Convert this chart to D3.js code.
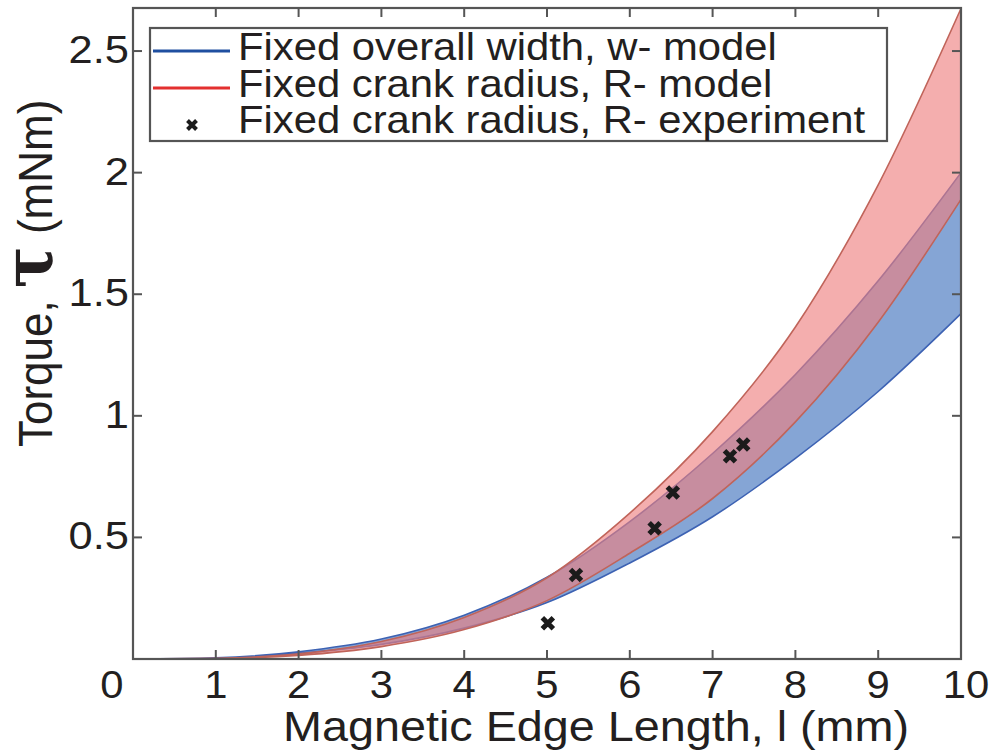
<!DOCTYPE html>
<html>
<head>
<meta charset="utf-8">
<script src="https://cdn.jsdelivr.net/npm/d3@7"></script>
<style>
body { margin: 0; background: #fff; }
text { font-family: "Liberation Sans", Arial, sans-serif; fill: #231f20; }
</style>
</head>
<body>
<div id="chart"></div>
<script>
// data
var edgeLength = [0, 1, 2, 3, 4, 5, 6, 7, 8, 9, 10];
var widthModelLow  = [0, 0.004, 0.023, 0.060, 0.127, 0.232, 0.395, 0.585, 0.825, 1.100, 1.420];
var widthModelHigh = [0, 0.005, 0.030, 0.082, 0.180, 0.336, 0.565, 0.845, 1.170, 1.555, 2.000];
var crankModelLow  = [0, 0.002, 0.015, 0.051, 0.121, 0.240, 0.435, 0.660, 0.975, 1.385, 1.890];
var crankModelHigh = [0, 0.003, 0.021, 0.072, 0.171, 0.334, 0.600, 0.935, 1.365, 1.950, 2.675];

var expLength = [5.01, 5.35, 6.30, 6.52, 7.21, 7.37];
var expTorque = [0.147, 0.345, 0.538, 0.685, 0.834, 0.882];

var xTicks = [0, 1, 2, 3, 4, 5, 6, 7, 8, 9, 10];
var yTicks = [0.5, 1, 1.5, 2, 2.5];
var legendLabels = ["Fixed overall width, w- model", "Fixed crank radius, R- model", "Fixed crank radius, R- experiment"];

var W = 992, H = 753;
var stretch = 1.1; // the figure text is a bit wider than tall

var svg = d3.select('#chart').append('svg')
    .attr('width', W)
    .attr('height', H);

var x = d3.scaleLinear().domain([0, 10]).range([133, 961]);
var y = d3.scaleLinear().domain([0, 2.677]).range([659, 8]);

function bandData(lo, hi) {
    return edgeLength.map(function(l, i) { return {l: l, lo: lo[i], hi: hi[i]}; });
}

var area = d3.area()
    .x(function(d) { return x(d.l); })
    .y0(function(d) { return y(d.lo); })
    .y1(function(d) { return y(d.hi); })
    .curve(d3.curveMonotoneX);

// blue band first, red translucent band on top
svg.append('path')
    .datum(bandData(widthModelLow, widthModelHigh))
    .attr('d', area)
    .attr('fill', '#85a5d5')
    .attr('stroke', '#3d62b3')
    .attr('stroke-width', 1.6);

svg.append('path')
    .datum(bandData(crankModelLow, crankModelHigh))
    .attr('d', area)
    .attr('fill', 'rgb(237,126,126)')
    .attr('fill-opacity', 0.63)
    .attr('stroke', '#c0645a')
    .attr('stroke-width', 1.6);

// experiment markers
function cross(g, cx, cy, s, w) {
    g.append('path')
        .attr('d', 'M' + (cx - s) + ',' + (cy - s) + 'L' + (cx + s) + ',' + (cy + s) +
                   'M' + (cx - s) + ',' + (cy + s) + 'L' + (cx + s) + ',' + (cy - s))
        .attr('stroke', '#1b1b1b')
        .attr('stroke-width', w)
        .attr('fill', 'none');
}
var marks = svg.append('g').attr('class', 'exp');
for (var i = 0; i < expLength.length; i++) {
    cross(marks, x(expLength[i]), y(expTorque[i]), 5.5, 5);
}

// axes box
var frame = svg.append('g').attr('class', 'frame');
var axisColor = '#555';
var tickLen = 9;
frame.append('rect')
    .attr('x', x(0)).attr('y', y.range()[1])
    .attr('width', x(10) - x(0)).attr('height', y(0) - y.range()[1])
    .attr('fill', 'none').attr('stroke', axisColor).attr('stroke-width', 2.2);

xTicks.forEach(function(t) {
    if (t === 0 || t === 10) return;
    frame.append('line').attr('x1', x(t)).attr('x2', x(t)).attr('y1', y(0)).attr('y2', y(0) - tickLen)
        .attr('stroke', axisColor).attr('stroke-width', 2);
    frame.append('line').attr('x1', x(t)).attr('x2', x(t)).attr('y1', y.range()[1]).attr('y2', y.range()[1] + tickLen)
        .attr('stroke', axisColor).attr('stroke-width', 2);
});
yTicks.forEach(function(t) {
    frame.append('line').attr('x1', x(0)).attr('x2', x(0) + tickLen).attr('y1', y(t)).attr('y2', y(t))
        .attr('stroke', axisColor).attr('stroke-width', 2);
    frame.append('line').attr('x1', x(10)).attr('x2', x(10) - tickLen).attr('y1', y(t)).attr('y2', y(t))
        .attr('stroke', axisColor).attr('stroke-width', 2);
});

// stretched text helper
function label(parent, tx, ty, str, size, anchor, rot) {
    var t = parent.append('text')
        .attr('transform', 'translate(' + tx + ',' + ty + ') scale(' + stretch + ',1)' + (rot ? ' rotate(' + rot + ')' : ''))
        .attr('font-size', size)
        .attr('text-anchor', anchor)
        .text(str);
    return t;
}

xTicks.forEach(function(t) {
    var off = 0;
    if (t === 0) off = -21;
    if (t === 10) off = 5;
    label(svg, x(t) + off, 698, d3.format('d')(t), 38, 'middle');
});
yTicks.forEach(function(t) {
    label(svg, 129, y(t) + 12, String(t), 39.5, 'end');
});

label(svg, 596, 741, 'Magnetic Edge Length, l (mm)', 42.5, 'middle');

// y label with big tau
var yl = svg.append('text')
    .attr('transform', 'translate(52,447) scale(' + stretch + ',1) rotate(-90)')
    .attr('font-size', 44)
    .attr('text-anchor', 'start');
yl.append('tspan').text('Torque, ');
yl.append('tspan').text('\u03C4').attr('font-family', '"DejaVu Serif", "Liberation Serif", serif').attr('font-size', 62).attr('font-weight', 'bold');
yl.append('tspan').text(' (mNm)');

// legend
var leg = svg.append('g').attr('class', 'legend');
leg.append('rect').attr('x', 150).attr('y', 28).attr('width', 737).attr('height', 113)
    .attr('fill', '#fff').attr('stroke', axisColor).attr('stroke-width', 2.2);
leg.append('line').attr('x1', 153).attr('x2', 230).attr('y1', 51).attr('y2', 51)
    .attr('stroke', '#1f4fa0').attr('stroke-width', 3);
leg.append('line').attr('x1', 153).attr('x2', 230).attr('y1', 88).attr('y2', 88)
    .attr('stroke', '#e3302f').attr('stroke-width', 3);
cross(leg, 192, 125, 4.5, 4);
var baselines = [60, 97, 133];
legendLabels.forEach(function(s, i) {
    label(leg, 238, baselines[i], s, 38, 'start');
});
</script>
</body>
</html>
